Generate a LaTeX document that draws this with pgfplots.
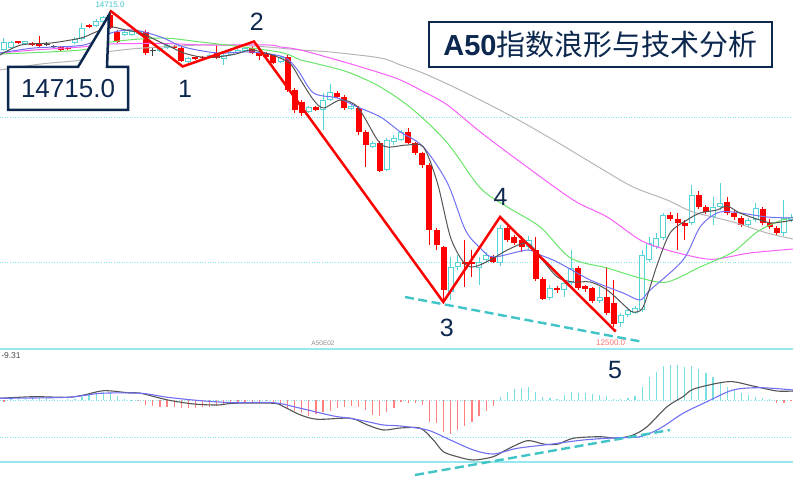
\documentclass[border=0pt]{standalone}
\usepackage{pgfplots}
\pgfplotsset{compat=1.18}
\usepackage{pgfplotstable}
\usepackage{fontspec}
\setmainfont{Liberation Sans}
\newfontfamily\cjk{Noto Sans CJK SC}

\definecolor{navy}{RGB}{12,40,78}
\definecolor{candlered}{RGB}{255,0,0}
\definecolor{candlecyan}{RGB}{84,212,214}
\definecolor{ma5}{RGB}{85,85,85}
\definecolor{ma10}{RGB}{112,112,245}
\definecolor{ma20}{RGB}{105,230,105}
\definecolor{ma30}{RGB}{250,95,250}
\definecolor{ma60}{RGB}{182,182,182}
\definecolor{gridcyan}{RGB}{130,228,234}
\definecolor{paneline}{RGB}{150,232,238}
\definecolor{histred}{RGB}{255,128,128}
\definecolor{histcyan}{RGB}{120,224,226}
\definecolor{trend}{RGB}{64,196,200}

% candle data: i = bar number, o/h/l/c (screen units, down = lower price)
\pgfplotstableread{
i o h l c
0 50 38 51 42
1 48 41 49 42
3 44.5 41 45 41.5
10 43 37 44 39
11 39 23 41 28
13 26 19 27 21
14 22 16 23 17
17 35 31 36 32
18 35 30 36 31
19 34 30 35 31
22 51 47 52 48
23 48.5 44 49 45
26 62 57 63 58
29 58 54 59 55
31 59 54 65 55
32 55 51 56 52
33 53 49 54 50
34 51 47 52 48
39 62 56 63 57
43 112 106 113 107
45 110 93 130 100
46 100 84 101 92
49 109 105 110 106
52 147 141 148 143
54 170 138 171 140
55 142 135 145 138
56 140 130 141 132
63 292 257 300 267
64 267 255 270 262
67 268 257 285 262
68 260 252 262 255
70 263 225 266 228
74 247 236 250 240
77 298 285 300 288
79 290 280 297 283
80 283 250 285 268
84 301 287 303 297
87 323 313 327 315
88 315 308 317 310
89 313 306 314 308
90 310 250 312 255
91 260 237 262 243
92 247 233 249 238
93 238 213 240 215
97 223 185 225 195
100 217 197 225 207
101 207 183 210 203
105 225 218 227 220
106 220 203 222 208
110 233 200 236 218
111 220 214 222 217
}\upc

\pgfplotstableread{
i o h l c
2 41.5 41 44 43
4 43 42 46 45.5
5 43 36 47 46
8 47 46 51 50
9 48 47 50 49.5
12 25.5 24 28 27
15 15 10 29 28
16 32 30 43 42
20 32 30 55 53
24 46 45 49 48
25 48 46 62 61
27 57.5 57 60 59
28 57 56 59 58.5
30 53 45 59 58
35 48 46 54 53
36 52 50 60 56
37 53 52 58 57
38 55 54 64 63
40 57 55 92 90
41 90 88 113 110
42 102 100 116 113
44 107 106 111 110
47 93 91 98 97
48 97 95 110 108
50 108 106 135 132
51 132 130 167 145
53 143 141 172 171
57 132 128 144 143
58 143 142 155 153
59 153 152 168 165
60 165 163 245 230
61 230 228 250 245
62 247 246 304 290
65 262 240 287 264
66 262.5 250 277 264
69 257 255 263 262
71 228 225 242 240
72 237 235 245 243
73 240 236 252 247
75 250 237 281 279
76 279 277 300 299
78 288 286 293 290
81 268 266 290 288
82 286 285 292 289
83 288 287 303 301
85 297 267 315 313
86 303 280 327 324
94 215 212 221 219
95 219 213 250 223
96 223 220 240 226
98 195 191 209 207
99 207 205 214 212
102 202 197 215 213
103 213 210 220 217
104 218 216 227 225
107 209 207 225 223
108 223 219 229 227
109 228 226 235 233
}\downc

\pgfplotstableread{
i o h l c
6 44 42 46 44.8
7 46.5 45 48 47.3
21 50 47 56 51
}\dojic

% MACD histogram
\pgfplotstableread{
i v
0 -2
1 1
2 0.5
3 1
4 2
5 2
6 1.5
7 1
9 0.5
10 1
11 3.3
12 5
13 6.7
14 8.3
15 7.3
16 4
17 1
18 0.3
19 -1
20 -5
21 -5.7
22 -6.7
23 -6.7
24 -6.7
25 -8.3
26 -8.3
27 -8.3
28 -6.7
29 -6.7
30 -5
31 -4
32 -2.7
33 -2
34 -1.7
35 -1.7
36 -1.7
37 -1
38 -3.3
39 -5
40 -8.3
41 -10.7
42 -13.3
43 -16
44 -14
45 -11.7
46 -10.7
47 -8.3
48 -6.7
49 -6
50 -6.7
51 -10
52 -15
53 -16
54 -11.7
55 -8.3
56 -2
57 -3
58 -3.3
59 -5
60 -21.7
61 -23
62 -31.7
63 -34
64 -30
65 -26
66 -21.7
67 -16
68 -10.7
69 -6
70 3
71 8.3
72 11
73 12.3
74 13.3
75 8.3
76 3.3
77 1.7
78 1
79 5
80 8.3
81 6.7
82 6.7
83 5.7
84 5
85 4.3
86 0.7
87 0.7
88 1.7
89 4
90 13.3
91 23
92 28.3
93 34
94 35
95 35
96 33.3
97 34
98 30.7
99 26.7
100 23.3
101 17.3
102 13.3
103 10
104 7.3
105 5
106 3.3
107 1.7
108 0.7
109 -3.3
110 -2.7
111 -1
}\hist

\pgfplotsset{
  panel/.style={scale only axis, hide axis, width=793pt,
    xmin=-0.564, xmax=111.28, anchor=south west},
  wick/.style={line width=1pt, quiver={u=0, v=\thisrow{l}-\thisrow{h}}},
  body/.style={line width=6pt, quiver={u=0, v=\thisrow{c}-\thisrow{o}}},
  hline/.style={gridcyan, line width=0.9pt, dash pattern=on 1pt off 1.6pt},
}

\begin{document}
\begin{tikzpicture}
\fill[white] (0,0) rectangle (793pt,484pt);
\path[use as bounding box] (0,0) rectangle (793pt,484pt);

% price panel
\begin{axis}[panel, at={(0pt,136pt)}, height=348pt, ymin=0, ymax=348, y dir=reverse]
\addplot[hline] coordinates {(-1,117) (112,117)};
\addplot[hline] coordinates {(-1,262) (112,262)};

\addplot[candlecyan, wick] table[x=i, y=h] {\upc};
\addplot[candlecyan, body] table[x=i, y=o] {\upc};
\addplot[white, line width=4pt, quiver={u=0, v=\thisrow{c}-\thisrow{o}+2}]
  table[x=i, y expr=\thisrow{o}-1] {\upc};
\addplot[candlered, wick] table[x=i, y=h] {\downc};
\addplot[candlered, body] table[x=i, y=o] {\downc};
\addplot[ma5!80!black, wick] table[x=i, y=h] {\dojic};
\addplot[ma5!80!black, line width=6pt, quiver={u=0, v=1}] table[x=i, y=o] {\dojic};

% moving averages
\addplot[ma60, line width=1pt, smooth] coordinates {
(-0.56,70) (5.21,64) (10.85,60) (13.66,53) (17.89,49) (22.11,47) (27.75,45)
(32.39,45) (37.18,47) (41.83,50) (46.06,52) (53.10,58) (55.92,65) (58.73,72)
(62.54,84) (67.18,100) (72.82,121) (78.45,144) (84.08,168) (88.73,187)
(93.52,200) (97.18,212) (102.82,222) (107.61,233) (111.3,239)};
\addplot[ma30, line width=1pt, smooth] coordinates {
(-0.56,53) (4.23,50) (10.85,47) (15.07,44) (22.11,43.5) (28.73,45) (37.18,45)
(39.01,47) (41.83,50) (48.45,63) (53.10,73) (55.92,80) (58.73,90) (62.54,105)
(67.18,132) (72.82,162) (80.28,200) (85.07,217) (89.72,240) (93.52,250)
(98.17,258) (100.56,259) (105.21,253) (111.3,249)};
\addplot[ma20, line width=1pt, smooth] coordinates {
(-0.56,54) (10.85,50) (15.07,42) (22.11,38) (27.75,42) (34.79,48) (39.44,53)
(41.83,60) (43.66,63) (48.45,72) (53.10,87) (57.75,110) (62.54,143) (67.18,188)
(70.99,207) (75.63,227) (79.9,258) (85.07,268) (89.72,278) (93.52,282)
(98.17,267) (102.82,252) (106.20,232) (109.01,222) (111.3,217)};
\addplot[ma10, line width=1pt, smooth] coordinates {
(-0.56,53) (4.23,48) (11.27,45) (15.07,33) (18.31,30) (22.11,37) (25.35,47)
(30.14,53) (34.79,52) (39.44,57) (41.41,70) (43.66,93) (47.04,98) (49.86,107)
(53.10,117) (55.92,132) (59.15,147) (62.54,183) (65.07,230) (67.18,248)
(69.01,257) (73.80,250) (75.63,255) (78.03,262) (82.68,280) (87.32,293)
(89.72,300) (91.13,290) (95.77,260) (98.17,227) (100.56,213) (102.82,212)
(107.61,217) (111.3,218)};
\addplot[ma5, line width=1pt, smooth] coordinates {
(-0.56,55) (2.39,45) (6.62,43) (10.85,38) (12.96,32) (15.07,27) (17.18,30)
(19.30,33) (21.41,40) (23.52,47) (25.35,53) (27.75,57) (30.14,57) (32.68,54)
(34.79,50) (36.90,53) (38.59,57) (40.42,64) (41.83,80) (43.66,100) (45.07,108)
(47.46,100) (49.86,107) (52.68,140) (54.08,147) (56.90,145) (59.15,147)
(61.13,183) (62.96,237) (64.79,262) (66.20,267) (68.59,260) (70.99,250)
(73.80,243) (75.63,257) (78.03,277) (80.28,282) (82.68,282) (85.07,290)
(87.89,308) (88.73,312) (90.14,307) (92.11,265) (93.94,233) (96.34,220)
(98.17,213) (100.56,210) (101.97,206) (103.80,213) (106.62,220) (108.45,223)
(111.3,220)};

% wave count and lower trend line
\addplot[candlered, line width=2.5pt, line join=miter] coordinates {
(14.95,10.5) (25.2,66.5) (35.26,41.5) (61.96,302) (69.96,217) (86.28,331.5)};
\addplot[trend, line width=2.4pt, dash pattern=on 9pt off 4.5pt] coordinates {
(56.56,297) (89.94,341.7)};
\end{axis}

% MACD panel
\begin{axis}[panel, at={(0pt,0pt)}, height=136pt, ymin=-84, ymax=52]
\addplot[paneline, line width=2pt] coordinates {(-1,51) (112,51)};
\addplot[paneline, line width=2pt] coordinates {(-1,-62) (112,-62)};
\addplot[hline] coordinates {(-1,0) (112,0)};
\addplot[hline] coordinates {(-1,-37) (112,-37)};

\addplot[ycomb, histcyan, line width=1.2pt, restrict y to domain=0:100]
  table[x=i, y=v] {\hist};
\addplot[ycomb, histred, line width=1.2pt, restrict y to domain=-100:0]
  table[x=i, y=v] {\hist};

% DIF
\addplot[ma5, line width=1.1pt, smooth] coordinates {
(-0.56,1.7) (4.23,3.3) (8.97,2.7) (11.27,5) (14.08,9.3) (17.46,7.3) (19.30,6.7)
(23.10,0) (26.76,-4) (30.14,-5) (32.39,-3.3) (38.03,-3.3) (39.44,-6.7)
(41.83,-15) (44.23,-19.3) (48.87,-18.3) (51.27,-25) (53.52,-30) (55.92,-28)
(58.73,-28.3) (60.56,-40) (61.97,-51.7) (63.94,-56.7) (66.20,-60) (69.01,-56.7)
(70.99,-49.3) (73.80,-40.7) (76.06,-44) (78.03,-44.3) (80.28,-38.3)
(84.08,-36.7) (86.48,-38.3) (88.73,-35) (90.70,-26.7) (93.52,-6.7) (95.77,3.3)
(97.18,10.7) (100.56,16.7) (102.82,18.3) (105.63,14) (109.01,9) (111.3,9)};
% DEA
\addplot[ma10, line width=1.1pt, smooth] coordinates {
(-0.56,1.7) (8.97,2.7) (13.66,6.7) (19.30,6.7) (23.06,2.7) (27.75,-0.7)
(32.39,-2.7) (38.03,-2.7) (41.83,-8.3) (46.48,-16) (48.87,-18.3) (51.27,-21.7)
(53.52,-25) (55.92,-26) (59.72,-30) (62.96,-40) (66.20,-50) (69.01,-54)
(72.39,-48.3) (77.04,-44.3) (81.69,-40) (86.48,-37.7) (89.72,-36.7)
(92.54,-28.3) (95.77,-13.3) (99.15,-1.7) (102.82,10) (106.62,12.3) (111.3,10)};

\addplot[trend, line width=2.4pt, dash pattern=on 9pt off 4.5pt] coordinates {
(57.97,-75) (93.93,-30)};
\end{axis}

% annotations in screen pixels (origin top left)
\begin{scope}[x=1pt, y=-1pt, shift={(0pt,484pt)}]
\draw[navy, line width=2.5pt, fill=white] (429,22) rectangle (772,67);
\node[text=navy, inner sep=0pt, font=\fontsize{29}{32}\selectfont]
  at (600.5,44.5) {\textbf{A50}{\cjk 指数浪形与技术分析}};

\draw[navy, line width=2.5pt, fill=white, line join=miter]
  (8,67) -- (78,67) -- (109,15) -- (107,67) -- (128,67) -- (128,110) -- (8,110) -- cycle;
\node[text=navy, inner sep=0pt, font=\fontsize{26}{28}\selectfont] at (68,88.5) {14715.0};

\begin{scope}[every node/.style={text=navy, inner sep=0pt, font=\fontsize{25}{27}\selectfont}]
\node at (185,89) {1};
\node at (256.7,21.5) {2};
\node at (446.7,327.5) {3};
\node at (500.5,196.5) {4};
\node at (615,370) {5};
\end{scope}

\node[text=trend, inner sep=0pt, font=\fontsize{8}{9}\selectfont] at (110,5) {14715.0};
\node[text=histred!90!red, inner sep=0pt, font=\fontsize{8}{9}\selectfont] at (610.7,342.3) {12500.0};
\node[text=black!45, inner sep=0pt, font=\fontsize{6.5}{7}\selectfont] at (323,343.5) {A50E02};
\node[text=black!70, inner sep=0pt, font=\fontsize{8.5}{9}\selectfont] at (11,356) {-9.31};
\end{scope}
\end{tikzpicture}
\end{document}
